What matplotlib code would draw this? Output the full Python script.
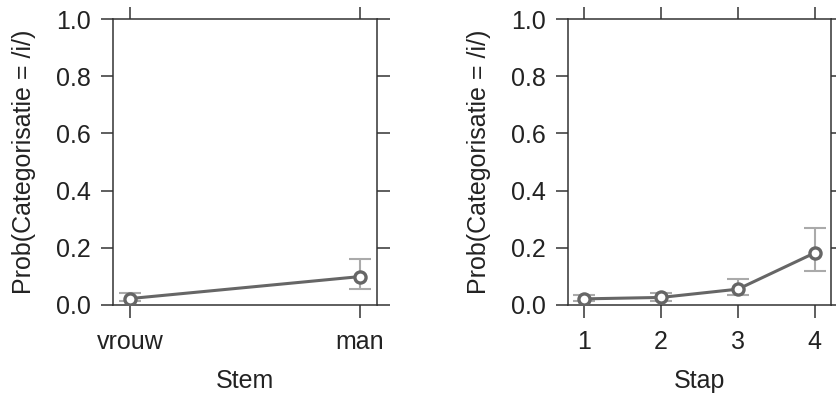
import numpy as np
import matplotlib as mpl
mpl.use("Agg")
import matplotlib.pyplot as plt

# Stem panel
stem_labels = ["vrouw", "man"]
stem_prob = [0.022, 0.099]
stem_lo = [0.012, 0.057]
stem_hi = [0.042, 0.162]

# Stap panel
stap_labels = ["1", "2", "3", "4"]
stap_prob = [0.021, 0.026, 0.055, 0.182]
stap_lo = [0.012, 0.015, 0.033, 0.119]
stap_hi = [0.035, 0.042, 0.090, 0.268]

y_ticks = [0.0, 0.2, 0.4, 0.6, 0.8, 1.0]

plt.rcParams["font.family"] = ["Liberation Sans", "DejaVu Sans"]
plt.rcParams["font.size"] = 18

LINE = "#666666"
ERR = "#aaaaaa"
SPINE = "#333333"
TEXT = "#222222"


def draw_panel(ax, labels, prob, lo, hi, xlabel, pad):
    x = np.arange(1, len(labels) + 1)
    prob = np.array(prob)
    err = [prob - np.array(lo), np.array(hi) - prob]
    ax.errorbar(x, prob, yerr=err, fmt="none", ecolor=ERR, elinewidth=1.5,
                capsize=8, capthick=1.5, zorder=2)
    ax.plot(x, prob, color=LINE, lw=2.2, zorder=3)
    ax.plot(x, prob, "o", mfc="white", mec=LINE, mew=2.4, ms=8, zorder=4)
    ax.set_xlim(1 - pad, len(labels) + pad)
    ax.set_ylim(0, 1)
    ax.set_xticks(x)
    ax.set_xticklabels(labels)
    ax.set_yticks(y_ticks)
    ax.set_yticklabels([f"{v:.1f}" for v in y_ticks])
    ax.tick_params(axis="both", direction="out", length=9, width=1.1,
                   color=SPINE, labelcolor=TEXT, labelsize=18,
                   top=True, right=True, labeltop=False, labelright=False)
    ax.tick_params(axis="y", pad=7)
    ax.tick_params(axis="x", pad=9)
    for s in ax.spines.values():
        s.set_color(SPINE)
        s.set_linewidth(1.1)
    ax.set_xlabel(xlabel, fontsize=18, color=TEXT, labelpad=11)
    ax.set_ylabel("Prob(Categorisatie = /i/)", fontsize=18, color=TEXT,
                  labelpad=14)


fig = plt.figure(figsize=(8.37, 3.98), dpi=100)
ax1 = fig.add_axes([0.135, 0.234, 0.3154, 0.718])
ax2 = fig.add_axes([0.6786, 0.234, 0.3142, 0.718])

draw_panel(ax1, stem_labels, stem_prob, stem_lo, stem_hi, "Stem", 0.0736)
draw_panel(ax2, stap_labels, stap_prob, stap_lo, stap_hi, "Stap", 0.21)

fig.savefig("out.png", dpi=100)
